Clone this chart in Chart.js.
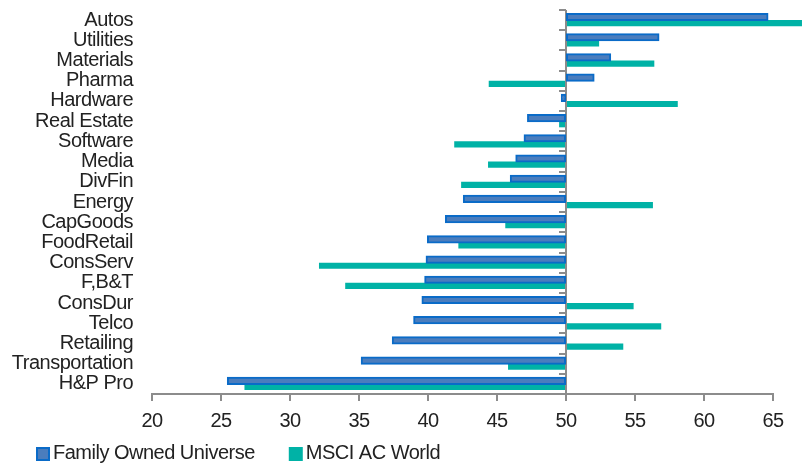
<!DOCTYPE html>
<html>
<head>
<meta charset="utf-8">
<script src="https://cdn.jsdelivr.net/npm/chart.js@4/dist/chart.umd.min.js"></script>
<style>
  html, body { margin: 0; padding: 0; background: #ffffff; }
  #wrap { width: 811px; height: 464px; }
</style>
</head>
<body>
<div id="wrap"><canvas id="c" width="811" height="464"></canvas></div>
<script>
// Sector scores, both series measured against a neutral level of 50
const sectors = ['Autos', 'Utilities', 'Materials', 'Pharma', 'Hardware', 'Real Estate', 'Software',
  'Media', 'DivFin', 'Energy', 'CapGoods', 'FoodRetail', 'ConsServ', 'F,B&T', 'ConsDur', 'Telco',
  'Retailing', 'Transportation', 'H&P Pro'];
const familyOwned = [64.6, 56.7, 53.2, 52.0, 49.7, 47.25, 47.0, 46.4, 46.0, 42.6, 41.3, 40.0, 39.9,
  39.8, 39.6, 39.0, 37.45, 35.2, 25.5];
const msciWorld = [67.1, 52.4, 56.4, 44.4, 58.1, 49.5, 41.9, 44.35, 42.4, 56.3, 45.6, 42.2, 32.1,
  34.0, 54.9, 56.9, 54.15, 45.8, 26.7];
const xTicks = [20, 25, 30, 35, 40, 45, 50, 55, 60, 65];
const seriesNames = ['Family Owned Universe', 'MSCI AC World'];
const pivot = 50;

const AXIS_GREY = '#8c8c8c';
const TEXT = '#222222';
const FONT_FAMILY = "'Liberation Sans', Arial, Helvetica, sans-serif";
const SPACING = '-0.5px';

Chart.defaults.font.family = FONT_FAMILY;
Chart.defaults.font.size = 20;
Chart.defaults.color = TEXT;

// tighter letter spacing for all canvas text (set before layout and before drawing)
const tightText = {
  id: 'tightText',
  beforeUpdate(chart) { chart.ctx.letterSpacing = SPACING; },
  beforeDraw(chart) { chart.ctx.letterSpacing = SPACING; }
};

// short tick marks on the pivot line, one per category boundary
const pivotTicks = {
  id: 'pivotTicks',
  afterDatasetsDraw(chart) {
    const { ctx, scales: { x, y } } = chart;
    const px = x.getPixelForValue(pivot);
    const step = y.getPixelForValue(1) - y.getPixelForValue(0);
    const first = y.getPixelForValue(0) - step / 2;
    ctx.save();
    ctx.strokeStyle = AXIS_GREY;
    ctx.lineWidth = 2;
    ctx.beginPath();
    for (let i = 0; i <= sectors.length; i++) {
      const py = Math.round(first + i * step);
      ctx.moveTo(px - 7, py);
      ctx.lineTo(px, py);
    }
    ctx.stroke();
    ctx.restore();
  }
};

// compact legend along the bottom left
const bottomLegend = {
  id: 'bottomLegend',
  afterDraw(chart) {
    const ctx = chart.ctx;
    ctx.save();
    ctx.font = '20px ' + FONT_FAMILY;
    ctx.letterSpacing = SPACING;
    ctx.textBaseline = 'alphabetic';
    ctx.textAlign = 'left';
    let x = 36;
    const boxTop = 447, box = 14, baseline = 459;
    chart.data.datasets.forEach(ds => {
      ctx.fillStyle = ds.backgroundColor;
      ctx.fillRect(x, boxTop, box, box);
      if (ds.borderWidth) {
        ctx.strokeStyle = ds.borderColor;
        ctx.lineWidth = 2;
        ctx.strokeRect(x + 1, boxTop + 1, box - 2, box - 2);
      }
      const tx = x + box + 3;
      ctx.fillStyle = TEXT;
      ctx.fillText(ds.label, tx, baseline);
      x = tx + ctx.measureText(ds.label).width + 34;
    });
    ctx.restore();
  }
};

new Chart(document.getElementById('c'), {
  type: 'bar',
  data: {
    labels: sectors,
    datasets: [
      {
        label: seriesNames[0],
        data: familyOwned,
        base: pivot,
        backgroundColor: '#4b7dbd',
        borderColor: '#0a6bc8',
        borderWidth: 2,
        borderSkipped: false,
        inflateAmount: 1,
        clip: false
      },
      {
        label: seriesNames[1],
        data: msciWorld,
        base: pivot,
        backgroundColor: '#00b2a6',
        borderWidth: 0,
        inflateAmount: 0,
        clip: false
      }
    ]
  },
  options: {
    indexAxis: 'y',
    responsive: false,
    animation: false,
    categoryPercentage: 0.61,
    barPercentage: 1,
    layout: { padding: { left: 0, right: 38, top: 10, bottom: 30 } },
    plugins: {
      legend: { display: false },
      tooltip: { enabled: false }
    },
    scales: {
      x: {
        min: 20,
        max: 65,
        afterBuildTicks(scale) { scale.ticks = xTicks.map(v => ({ value: v })); },
        afterFit(scale) { scale.height = 40; scale.paddingLeft = 0; scale.paddingRight = 0; },
        border: { display: true, color: AXIS_GREY, width: 2 },
        grid: {
          drawOnChartArea: true,
          color: ctx => (ctx.tick && ctx.tick.value === pivot ? AXIS_GREY : 'rgba(0,0,0,0)'),
          lineWidth: 2,
          drawTicks: true,
          tickLength: 7,
          tickColor: AXIS_GREY,
          tickWidth: 2
        },
        ticks: { padding: 8, maxRotation: 0, autoSkip: false, color: TEXT }
      },
      y: {
        afterFit(scale) { scale.width = 152; scale.paddingTop = 0; scale.paddingBottom = 0; },
        border: { display: false },
        grid: { display: false, drawTicks: false },
        ticks: { padding: 19, autoSkip: false, color: TEXT }
      }
    }
  },
  plugins: [tightText, pivotTicks, bottomLegend]
});
</script>
</body>
</html>
